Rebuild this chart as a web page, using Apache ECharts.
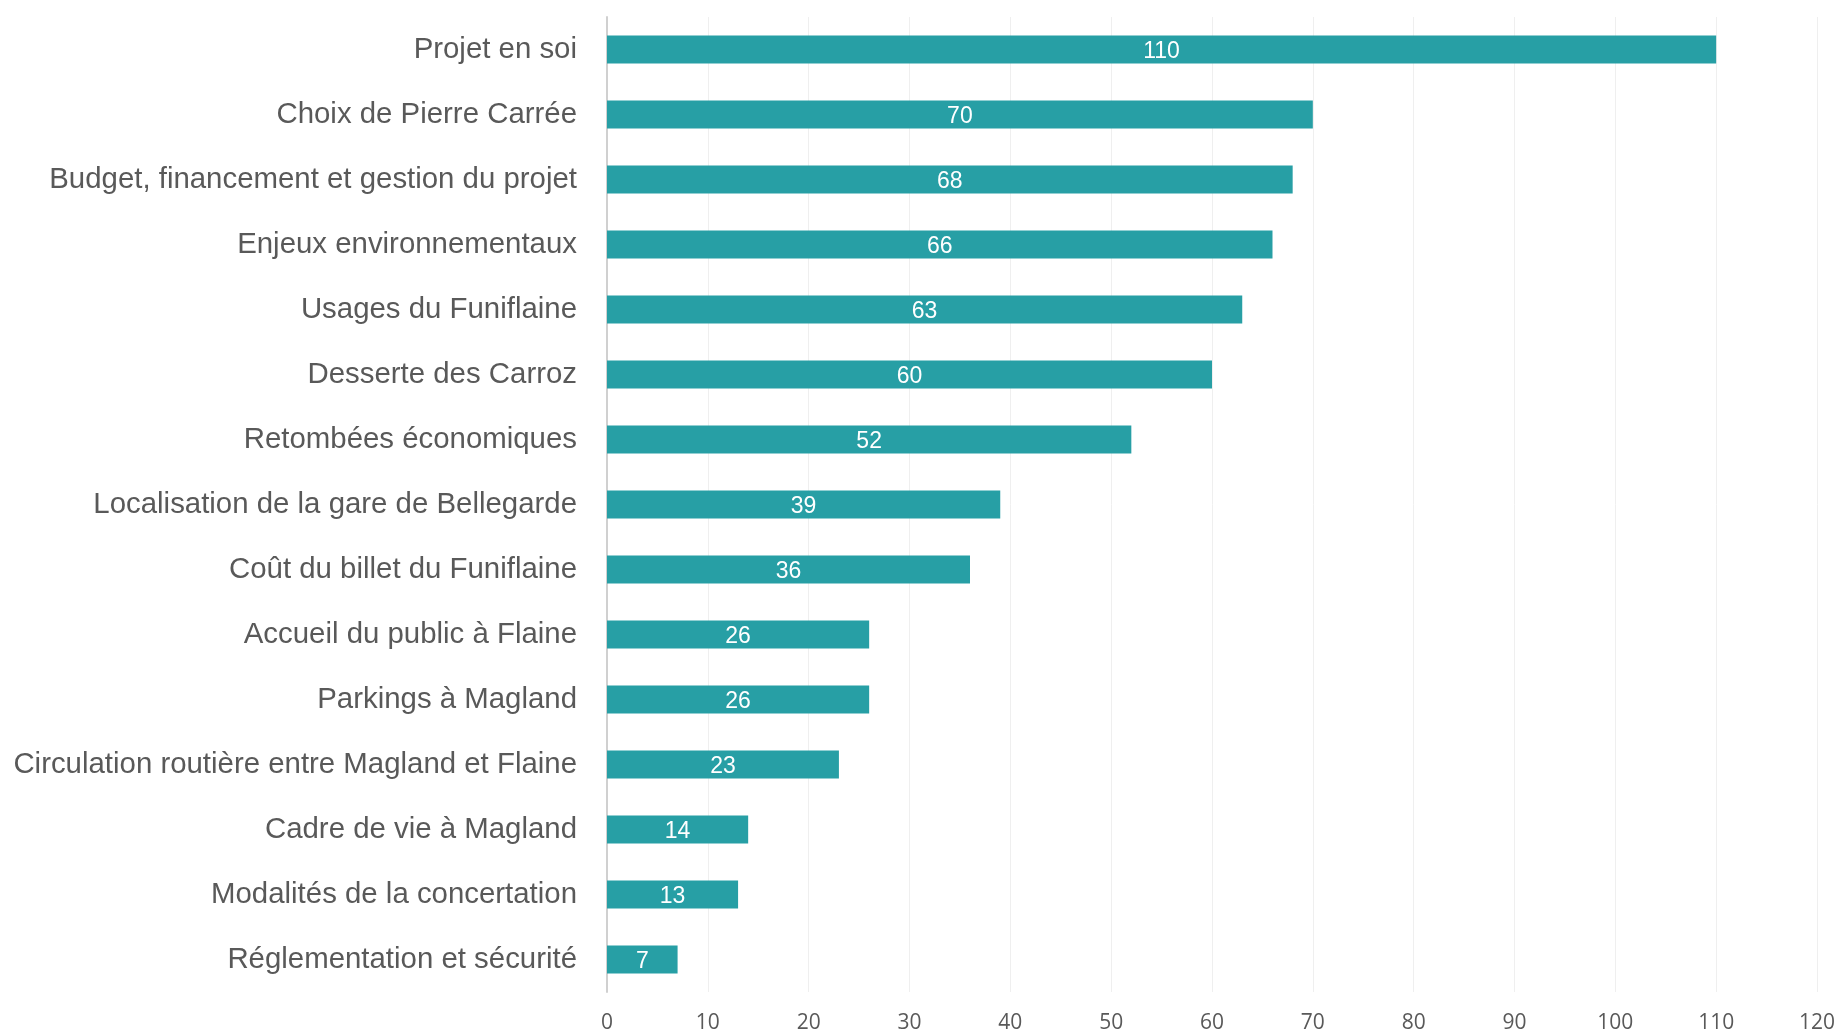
<!DOCTYPE html>
<html>
<head>
<meta charset="utf-8">
<script src="https://cdn.jsdelivr.net/npm/echarts@6/dist/echarts.min.js"></script>
<style>
  html, body { margin: 0; padding: 0; background: #fff; }
  #chart { width: 1838px; height: 1034px; }
</style>
</head>
<body>
<div id="chart"></div>
<script>
  // thèmes, du plus cité au moins cité
  const categories = [
    'Projet en soi',
    'Choix de Pierre Carrée',
    'Budget, financement et gestion du projet',
    'Enjeux environnementaux',
    'Usages du Funiflaine',
    'Desserte des Carroz',
    'Retombées économiques',
    'Localisation de la gare de Bellegarde',
    'Coût du billet du Funiflaine',
    'Accueil du public à Flaine',
    'Parkings à Magland',
    'Circulation routière entre Magland et Flaine',
    'Cadre de vie à Magland',
    'Modalités de la concertation',
    'Réglementation et sécurité'
  ]
  const values = [110, 70, 68, 66, 63, 60, 52, 39, 36, 26, 26, 23, 14, 13, 7]
  const xTicks = [0, 10, 20, 30, 40, 50, 60, 70, 80, 90, 100, 110, 120]

  const myChart = echarts.init(document.getElementById('chart'))
  myChart.setOption({
    animation: false,
    grid: {
      left: 607,
      right: 21,
      top: 17,
      bottom: 41
    },
    xAxis: {
      type: 'value',
      min: xTicks[0],
      max: xTicks[xTicks.length - 1],
      interval: 10,
      axisLine: { show: false },
      axisTick: { show: false },
      splitLine: { lineStyle: { color: '#efefef', width: 1 } },
      axisLabel: {
        color: '#595959',
        fontFamily: 'Open Sans',
        fontSize: 21,
        margin: 21
      }
    },
    yAxis: {
      type: 'category',
      inverse: true,
      data: categories,
      axisLine: { lineStyle: { color: '#d0d0d0', width: 2 } },
      axisTick: { show: false },
      axisLabel: {
        color: '#595959',
        fontFamily: 'Liberation Sans',
        fontSize: 29.4,
        margin: 30
      }
    },
    series: [
      {
        type: 'bar',
        data: values,
        barWidth: '43%',
        itemStyle: { color: '#279fa5' },
        label: {
          show: true,
          position: 'inside',
          color: '#ffffff',
          fontFamily: 'Liberation Sans',
          fontSize: 23,
          offset: [0, 2]
        }
      }
    ]
  })
</script>
</body>
</html>
